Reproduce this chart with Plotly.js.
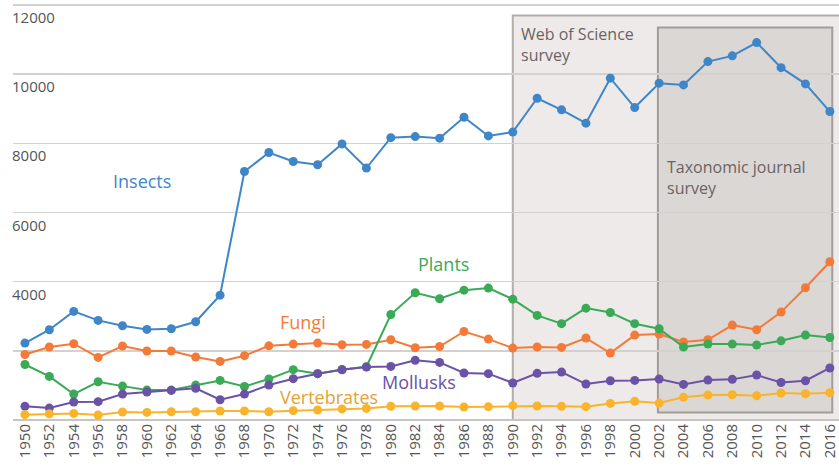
<!DOCTYPE html>
<html>
<head>
<meta charset="utf-8">
<script src="https://cdn.plot.ly/plotly-3.0.1.min.js"></script>
<style>html,body{margin:0;padding:0;background:#fff;}#chart{width:839px;height:467px;}</style>
</head>
<body>
<div id="chart"></div>
<script>
const years = [1950,1952,1954,1956,1958,1960,1962,1964,1966,1968,1970,1972,1974,1976,1978,1980,1982,1984,1986,1988,1990,1992,1994,1996,1998,2000,2002,2004,2006,2008,2010,2012,2014,2016];
const insects = [2225,2610,3140,2880,2725,2620,2640,2840,3610,7185,7735,7475,7380,7985,7285,8165,8195,8150,8755,8215,8325,9305,8970,8585,9885,9035,9740,9690,10365,10530,10915,10190,9720,8920];
const fungi = [1895,2110,2205,1810,2140,1995,1995,1820,1695,1860,2145,2195,2225,2175,2185,2320,2090,2125,2560,2340,2080,2110,2100,2370,1935,2455,2485,2255,2320,2745,2610,3120,3825,4575];
const plants = [1605,1260,750,1105,980,865,865,1010,1145,970,1185,1455,1340,1460,1540,3050,3680,3505,3755,3815,3495,3025,2785,3235,3110,2785,2640,2110,2195,2195,2170,2290,2455,2385];
const mollusks = [395,345,520,530,750,810,855,915,585,750,1010,1195,1340,1450,1530,1550,1725,1665,1360,1340,1070,1350,1385,1040,1135,1145,1185,1030,1155,1175,1300,1085,1135,1505];
const vertebrates = [155,180,190,145,230,220,240,240,260,260,240,270,290,320,335,395,405,405,375,385,415,405,395,385,480,540,490,655,720,730,700,780,760,790];
const seriesNames = ['Insects','Fungi','Plants','Mollusks','Vertebrates'];
const seriesColors = ['#3f86c8','#f47a3a','#3aaa56','#6a52a6','#f9b42c'];
const labelColors = ['#3f86c8','#f47a3a','#3aaa56','#6a52a6','#e4a23a'];
const yTickVals = [0,2000,4000,6000,8000,10000,12000];
const yTickText = ['','','4000','6000','8000','10000','12000'];
const surveys = [
  {name:'Web of Science<br>survey', x0:1990, x1:2018, y0:0, y1:11700},
  {name:'Taxonomic journal<br>survey', x0:2001.9, x1:2016.2, y0:220, y1:11350}
];

const allSeries = [insects, fungi, plants, mollusks, vertebrates];
const traces = allSeries.map((vals,i)=>({
  x: years, y: vals, type:'scatter', mode:'lines+markers', name: seriesNames[i],
  line:{color: seriesColors[i], width:2},
  marker:{color: seriesColors[i], size:9},
  cliponaxis:false, hoverinfo:'skip'
}));

const labelPos = [[1959.6,6920],[1972.8,2840],[1984.3,4520],[1982.3,1105],[1974.9,675]];
const annotations = seriesNames.map((n,i)=>({
  x: labelPos[i][0], y: labelPos[i][1], xref:'x', yref:'y', text:n, showarrow:false,
  font:{family:'Open Sans, sans-serif', size:18, color: labelColors[i]}, xanchor:'center', yanchor:'middle'
}));
annotations.push({x:1990.55, y:11530, xref:'x', yref:'y', text:surveys[0].name, showarrow:false, align:'left',
  xanchor:'left', yanchor:'top', font:{family:'Open Sans, sans-serif', size:16, color:'#6b6363'}});
annotations.push({x:2002.45, y:7700, xref:'x', yref:'y', text:surveys[1].name, showarrow:false, align:'left',
  xanchor:'left', yanchor:'top', font:{family:'Open Sans, sans-serif', size:16, color:'#6b6363'}});
// y tick labels drawn just below their gridlines, inside the plot
yTickVals.forEach((v,i)=>{
  if (!yTickText[i]) return;
  annotations.push({x:0, xref:'paper', y:v, yref:'y', text:yTickText[i], showarrow:false,
    xanchor:'left', yanchor:'top', yshift:0, xshift:-3,
    font:{family:'Open Sans, sans-serif', size:15, color:'#555555'}});
});

const shapes = [
  {type:'rect', xref:'x', yref:'y', x0:surveys[0].x0, x1:surveys[0].x1, y0:surveys[0].y0, y1:surveys[0].y1,
   fillcolor:'#eeeae9', line:{color:'#b3adab', width:2}, layer:'below'},
  {type:'rect', xref:'x', yref:'y', x0:surveys[1].x0, x1:surveys[1].x1, y0:surveys[1].y0, y1:surveys[1].y1,
   fillcolor:'#dbd7d5', line:{color:'#a29c9a', width:2}, layer:'below'}
];

const layout = {
  width:839, height:467,
  margin:{l:13, r:0, t:4, b:47},
  paper_bgcolor:'#ffffff', plot_bgcolor:'#ffffff',
  showlegend:false,
  font:{family:'Open Sans, sans-serif', color:'#555555'},
  xaxis:{range:[1949.02, 2016.75], tickvals: years, ticktext: years.map(String), tickangle:-90,
    ticklabeloverflow:'allow', automargin:false,
    showgrid:false, zeroline:false, showline:false, ticks:'', tickfont:{size:15, color:'#555555', family:'Open Sans, sans-serif'}},
  yaxis:{range:[0,12030], tickvals:yTickVals, showticklabels:false,
    showgrid:true, gridcolor:'#d4d0cf', gridwidth:1.5, zeroline:true, zerolinecolor:'#c8c4c3', zerolinewidth:2,
    showline:false, ticks:''},
  shapes: shapes,
  annotations: annotations
};

Plotly.newPlot('chart', traces, layout, {displayModeBar:false, staticPlot:true});
</script>
</body>
</html>
